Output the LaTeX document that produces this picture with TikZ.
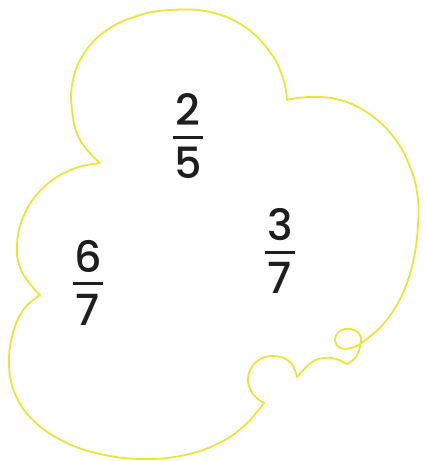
\documentclass[tikz,border=0pt]{standalone}
\usepackage{fontspec}
\newfontfamily\digfont{Poppins Medium}
\definecolor{cloudyellow}{RGB}{238,226,60}
\definecolor{ink}{RGB}{30,30,30}
\begin{document}
\begin{tikzpicture}[x=1pt,y=-1pt,
  cloud/.style={draw=cloudyellow,line width=1.8pt,line join=round},
  dig/.style={inner sep=0pt,anchor=base,text=ink,font=\digfont\fontsize{43}{43}\selectfont},
  fbar/.style={draw=ink,line width=3pt}]
\useasboundingbox (0,0) rectangle (424,461);
\draw[cloud]
  plot[smooth,tension=0.7] coordinates {(100,163) (80,140) (72,110) (73,80) (85,52) (107,30) (137,16) (170,10) (210,12) (245,27) (270,52) (283,78) (287,100)}
  -- plot[smooth,tension=0.7] coordinates {(287,100) (310,97) (340,100) (368,113) (392,135) (408,162) (417,192) (418,225) (413,262) (402,295) (385,322) (368,338) (354,347) (341,348) (335,340) (340,331) (351,329) (360,335) (360,347) (355,358) (347,364)}
  -- plot[smooth,tension=0.7] coordinates {(347,364) (336,359) (325,358) (312,362) (297,377)}
  -- plot[smooth,tension=0.7] coordinates {(297,377) (290,362) (273,356) (256,362) (248,378) (253,394) (264,403)}
  -- plot[smooth,tension=0.7] coordinates {(264,403) (243,427) (215,445) (180,456) (140,459) (100,454) (65,442) (35,422) (16,396) (9,365) (13,333) (24,309) (40,295)}
  -- plot[smooth,tension=0.7] coordinates {(40,295) (22,272) (17,245) (25,213) (45,186) (73,169) (100,163)};
% 2/5
\node[dig] (n1) at (188,125) {2};
\coordinate (b1l) at (173,137);
\coordinate (b1r) at (203,137);
\draw[fbar] (b1l) -- (b1r);
\node[dig] (d1) at (188,178) {5};
% 3/7
\node[dig] (n2) at (280,240) {3};
\coordinate (b2l) at (265,252);
\coordinate (b2r) at (295,252);
\draw[fbar] (b2l) -- (b2r);
\node[dig] (d2) at (280,293) {7};
% 6/7
\node[dig] (n3) at (88,272) {6};
\coordinate (b3l) at (73,283);
\coordinate (b3r) at (103,283);
\draw[fbar] (b3l) -- (b3r);
\node[dig] (d3) at (88,325) {7};
\end{tikzpicture}
\end{document}
